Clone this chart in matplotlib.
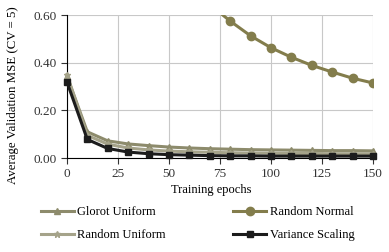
import numpy as np
import matplotlib
matplotlib.use("Agg")
import matplotlib.pyplot as plt

plt.rcParams['font.family'] = ['Liberation Serif', 'DejaVu Serif']

epochs = [0, 10, 20, 30, 40, 50, 60, 70, 80, 90, 100, 110, 120, 130, 140, 150]
glorot = [0.345, 0.11, 0.072, 0.059, 0.052, 0.046, 0.042, 0.039, 0.037, 0.035, 0.034, 0.033, 0.032, 0.031, 0.031, 0.030]
rand_normal = [1.5, 1.25, 1.1, 0.98, 0.88, 0.80, 0.72, 0.645, 0.575, 0.513, 0.463, 0.423, 0.389, 0.361, 0.335, 0.315]
rand_uniform = [0.35, 0.095, 0.058, 0.042, 0.034, 0.029, 0.026, 0.024, 0.022, 0.021, 0.020, 0.019, 0.019, 0.018, 0.018, 0.018]
var_scaling = [0.32, 0.078, 0.040, 0.025, 0.018, 0.014, 0.012, 0.010, 0.009, 0.009, 0.008, 0.008, 0.008, 0.008, 0.008, 0.008]

fig = plt.figure(figsize=(3.89, 2.52), dpi=100)
ax = fig.add_axes([0.172, 0.373, 0.787, 0.567])

l1, = ax.plot(epochs, glorot, color='#8d8b6c', lw=2.2, marker='^', ms=5, clip_on=False, zorder=3)
l2, = ax.plot(epochs, rand_normal, color='#837d4c', lw=2.2, marker='o', ms=6, zorder=3)
l3, = ax.plot(epochs, rand_uniform, color='#a5a38a', lw=2.2, marker='*', ms=5, clip_on=False, zorder=3)
l4, = ax.plot(epochs, var_scaling, color='#1c1c1c', lw=2.2, marker='s', ms=5, clip_on=False, zorder=4)

ax.set_xlim(0, 150)
ax.set_ylim(0, 0.6)
ax.set_xticks([0, 25, 50, 75, 100, 125, 150])
ax.set_yticks([0, 0.2, 0.4, 0.6])
ax.set_yticklabels(['0.00', '0.20', '0.40', '0.60'])
ax.grid(True, color='#c8c8c8', lw=0.8)
ax.set_axisbelow(True)
for s in ['top', 'right']:
    ax.spines[s].set_visible(False)
ax.tick_params(labelsize=9.5, direction='out', length=4, colors='#333333')

fig.text(211 / 389, 1 - 190 / 252, 'Training epochs', fontsize=9, ha='center', va='center')
fig.text(13 / 389, 1 - 95 / 252, 'Average Validation MSE (CV = 5)', fontsize=9.3,
         rotation=90, ha='center', va='center')

fig.legend([l1, l3, l2, l4], ['Glorot Uniform', 'Random Uniform', 'Random Normal', 'Variance Scaling'],
           loc='upper left', bbox_to_anchor=(41 / 389, 1 - 206 / 252), ncol=2, frameon=False,
           fontsize=9, columnspacing=5.4, handlelength=2.6, handletextpad=0.3,
           labelspacing=0.9, numpoints=1, borderpad=0, borderaxespad=0)

fig.savefig('out.png', dpi=100)
